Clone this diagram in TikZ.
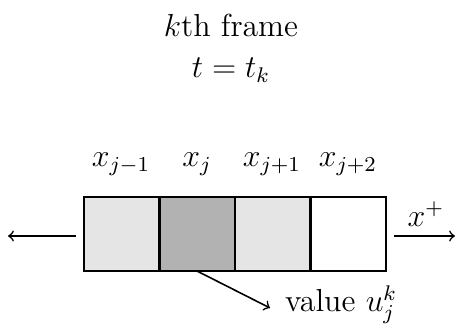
\documentclass[tikz,border=0pt]{standalone}
\begin{document}
\begin{tikzpicture}[x=0.01325cm,y=-0.01325cm,
  cell/.style={draw,thick,minimum width=75.5*0.01325cm,minimum height=74*0.01325cm,inner sep=0pt,outer sep=0pt,anchor=north west},
  lbl/.style={font=\large,inner sep=1pt},
  arr/.style={->,semithick}]
\useasboundingbox (0,0) rectangle (459,329);
\node[lbl] (title) at (231,25) {$k$th frame};
\node[lbl] (time) at (231,70) {$t=t_k$};
\node[cell,fill=black!10] (c1) at (84,197) {};
\node[cell,fill=black!30] (c2) at (c1.north east) {};
\node[cell,fill=black!10] (c3) at (c2.north east) {};
\node[cell,fill=white] (c4) at (c3.north east) {};
\node[lbl,anchor=base] (l1) at (121,167) {$x_{j-1}$};
\node[lbl,anchor=base] (l2) at (197,167) {$x_j$};
\node[lbl,anchor=base] (l3) at (272,167) {$x_{j+1}$};
\node[lbl,anchor=base] (l4) at (348,167) {$x_{j+2}$};
\coordinate (la) at (76,236);
\coordinate (lb) at (8,236);
\coordinate (ra) at (394,236);
\coordinate (rb) at (455,236);
\draw[arr] (la) -- (lb);
\draw[arr] (ra) -- (rb);
\node[lbl] (xp) at (426,214) {$x^+$};
\coordinate (vs) at (197,271);
\coordinate (vt) at (270,308);
\node[lbl,anchor=base west] (val) at (282,312) {value $u_j^k$};
\draw[arr] (vs) -- (vt);
\end{tikzpicture}
\end{document}
